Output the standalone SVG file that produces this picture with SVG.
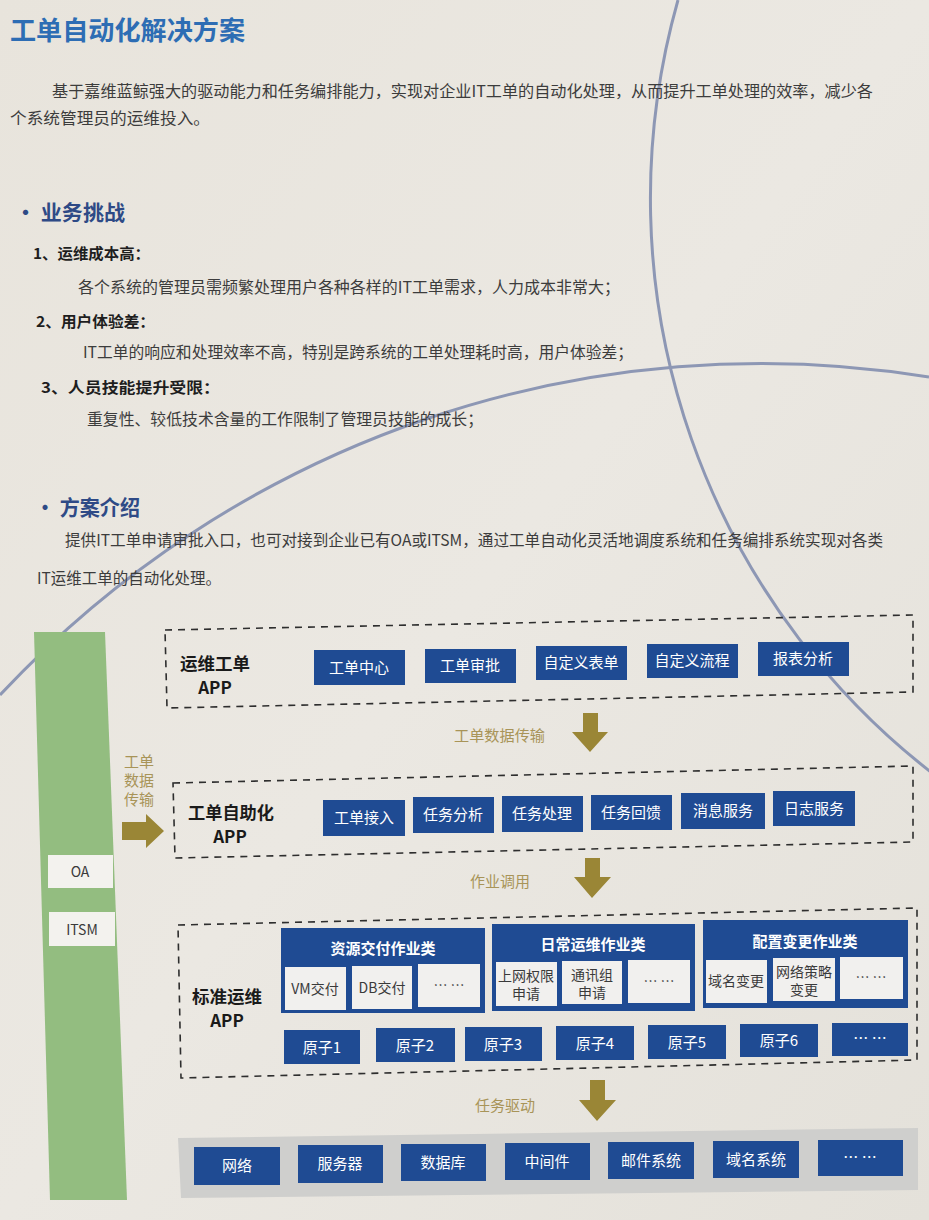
<svg xmlns="http://www.w3.org/2000/svg" width="929" height="1220" viewBox="0 0 929 1220">
<defs>
<linearGradient id="bg" x1="0" y1="0" x2="1" y2="1">
<stop offset="0" stop-color="#e8e4dc"/>
<stop offset="0.5" stop-color="#ebe8e2"/>
<stop offset="1" stop-color="#e4e1da"/>
</linearGradient>
<style>
.cn{font-family:"Noto Sans CJK SC","Liberation Sans",sans-serif;}
.title{font-size:26px;font-weight:bold;fill:#2d6db4;}
.body{font-size:16px;fill:#3c3c3c;}
.h2{font-size:21px;font-weight:bold;fill:#2e4a86;}
.h3{font-size:15px;font-weight:bold;fill:#1e1e1e;}
.lbl{font-size:17px;font-weight:bold;fill:#1a1a1a;}
.btxt{font-size:15px;fill:#ffffff;text-anchor:middle;}
.htxt{font-size:15px;font-weight:bold;fill:#ffffff;text-anchor:middle;}
.wtxt{font-size:14px;fill:#3a3a3a;text-anchor:middle;}
.gold{font-size:15px;fill:#a89458;}
.blue{fill:#1f4b93;}
.white{fill:#f1f0ee;}
.dash{fill:none;stroke:#2e2e2e;stroke-width:1.6;stroke-dasharray:7 6;}
.arc{fill:none;stroke:#8d97b4;stroke-width:3;}
.arrow{fill:#9a8636;}
</style>
</defs>
<rect width="929" height="1220" fill="url(#bg)"/>
<!-- decorative arcs -->
<path class="arc" d="M 678 0 A 727 727 0 0 0 955 790"/>
<path class="arc" d="M 0 695 A 1040 1040 0 0 1 929 377"/>

<!-- text content -->
<text class="cn title" x="10" y="40" textLength="235" lengthAdjust="spacingAndGlyphs">工单自动化解决方案</text>
<text class="cn body" x="52" y="97" textLength="821" lengthAdjust="spacingAndGlyphs">基于嘉维蓝鲸强大的驱动能力和任务编排能力，实现对企业IT工单的自动化处理，从而提升工单处理的效率，减少各</text>
<text class="cn body" x="10" y="124" textLength="200" lengthAdjust="spacingAndGlyphs">个系统管理员的运维投入。</text>

<text class="cn h2" x="15" y="220" textLength="110" lengthAdjust="spacingAndGlyphs">· 业务挑战</text>
<text class="cn h3" x="33" y="259" textLength="117" lengthAdjust="spacingAndGlyphs">1、运维成本高：</text>
<text class="cn body" x="78" y="293" textLength="542" lengthAdjust="spacingAndGlyphs">各个系统的管理员需频繁处理用户各种各样的IT工单需求，人力成本非常大；</text>
<text class="cn h3" x="36" y="327" textLength="119" lengthAdjust="spacingAndGlyphs">2、用户体验差：</text>
<text class="cn body" x="83" y="358" textLength="550" lengthAdjust="spacingAndGlyphs">IT工单的响应和处理效率不高，特别是跨系统的工单处理耗时高，用户体验差；</text>
<text class="cn h3" x="41" y="393" textLength="179" lengthAdjust="spacingAndGlyphs">3、人员技能提升受限：</text>
<text class="cn body" x="87" y="425" textLength="396" lengthAdjust="spacingAndGlyphs">重复性、较低技术含量的工作限制了管理员技能的成长；</text>

<text class="cn h2" x="35" y="515" textLength="105" lengthAdjust="spacingAndGlyphs">· 方案介绍</text>
<text class="cn body" x="65" y="546" textLength="818" lengthAdjust="spacingAndGlyphs">提供IT工单申请审批入口，也可对接到企业已有OA或ITSM，通过工单自动化灵活地调度系统和任务编排系统实现对各类</text>
<text class="cn body" x="37" y="584" textLength="184" lengthAdjust="spacingAndGlyphs">IT运维工单的自动化处理。</text>

<!-- left green bar -->
<g id="source-bar">
<polygon points="34,632 105,632 127,1200 50,1200" fill="#93bd80"/>
</g>
<g id="oa">
<rect x="48" y="855" width="65" height="33" fill="#f3f2ee"/>
<text class="cn wtxt" x="80" y="877">OA</text>
</g>
<g id="itsm">
<rect x="49" y="912" width="66" height="34" fill="#f3f2ee"/>
<text class="cn wtxt" x="82" y="935">ITSM</text>
</g>

<!-- connectors -->
<g id="connectors">
<text class="cn gold" x="124" y="767">工单</text>
<text class="cn gold" x="124" y="786">数据</text>
<text class="cn gold" x="124" y="805">传输</text>
<polygon class="arrow" points="122,822 146,822 146,814 164,831 146,848 146,840 122,840"/>

<text class="cn gold" x="454" y="741" textLength="91" lengthAdjust="spacingAndGlyphs">工单数据传输</text>
<polygon class="arrow" points="583,713 598,713 598,732 608,732 590,752 572,732 583,732"/>

<text class="cn gold" x="470" y="887" textLength="60" lengthAdjust="spacingAndGlyphs">作业调用</text>
<polygon class="arrow" points="585,858 600,858 600,877 611,877 592,898 574,877 585,877"/>

<text class="cn gold" x="475" y="1111" textLength="60" lengthAdjust="spacingAndGlyphs">任务驱动</text>
<polygon class="arrow" points="590,1080 605,1080 605,1100 616,1100 597,1121 579,1100 590,1100"/>
</g>

<!-- layer 1 -->
<g id="ops-ticket-app">
<polygon class="dash" points="165,630 913,615 913,692 167,708"/>
<text class="cn lbl" x="180" y="670" textLength="70" lengthAdjust="spacingAndGlyphs">运维工单</text>
<text class="cn lbl" x="215" y="694" text-anchor="middle">APP</text>
</g>
<g id="n-ticket-center"><rect class="blue" x="314" y="650" width="91" height="35"/><text class="cn btxt" x="359" y="673">工单中心</text></g>
<g id="n-ticket-approve"><rect class="blue" x="425" y="649" width="91" height="34"/><text class="cn btxt" x="470" y="671">工单审批</text></g>
<g id="n-custom-form"><rect class="blue" x="536" y="646" width="91" height="34"/><text class="cn btxt" x="581" y="668">自定义表单</text></g>
<g id="n-custom-flow"><rect class="blue" x="647" y="644" width="91" height="34"/><text class="cn btxt" x="692" y="666">自定义流程</text></g>
<g id="n-report"><rect class="blue" x="758" y="642" width="91" height="34"/><text class="cn btxt" x="803" y="664">报表分析</text></g>

<!-- layer 2 -->
<g id="ticket-auto-app">
<polygon class="dash" points="173,783 913,766 913,842 175,858"/>
<text class="cn lbl" x="188" y="819" textLength="86" lengthAdjust="spacingAndGlyphs">工单自助化</text>
<text class="cn lbl" x="230" y="843" text-anchor="middle">APP</text>
</g>
<g id="n-ingest"><rect class="blue" x="323" y="800" width="82" height="36"/><text class="cn btxt" x="364" y="823">工单接入</text></g>
<g id="n-analyze"><rect class="blue" x="413" y="797" width="81" height="36"/><text class="cn btxt" x="453" y="820">任务分析</text></g>
<g id="n-process"><rect class="blue" x="502" y="796" width="81" height="36"/><text class="cn btxt" x="542" y="819">任务处理</text></g>
<g id="n-feedback"><rect class="blue" x="591" y="795" width="81" height="35"/><text class="cn btxt" x="631" y="818">任务回馈</text></g>
<g id="n-message"><rect class="blue" x="681" y="793" width="84" height="36"/><text class="cn btxt" x="723" y="816">消息服务</text></g>
<g id="n-log"><rect class="blue" x="773" y="791" width="82" height="35"/><text class="cn btxt" x="814" y="814">日志服务</text></g>

<!-- layer 3 -->
<g id="std-ops-app">
<polygon class="dash" points="178,925 917,908 917,1060 181,1078"/>
<text class="cn lbl" x="192" y="1003" textLength="70" lengthAdjust="spacingAndGlyphs">标准运维</text>
<text class="cn lbl" x="227" y="1027" text-anchor="middle">APP</text>
</g>
<g id="cat-resource">
<rect class="blue" x="281" y="928" width="204" height="85"/>
<text class="cn htxt" x="383" y="954">资源交付作业类</text>
<rect class="white" x="285" y="967" width="61" height="43"/><text class="cn wtxt" x="315" y="994">VM交付</text>
<rect class="white" x="352" y="966" width="60" height="43"/><text class="cn wtxt" x="382" y="993">DB交付</text>
<rect class="white" x="418" y="964" width="62" height="43"/><text class="cn wtxt" x="449" y="990">… …</text>
</g>
<g id="cat-daily">
<rect class="blue" x="492" y="924" width="203" height="87"/>
<text class="cn htxt" x="593" y="950">日常运维作业类</text>
<rect class="white" x="496" y="962" width="61" height="44"/><text class="cn wtxt" x="526" y="981">上网权限</text><text class="cn wtxt" x="526" y="999">申请</text>
<rect class="white" x="562" y="961" width="60" height="43"/><text class="cn wtxt" x="592" y="980">通讯组</text><text class="cn wtxt" x="592" y="998">申请</text>
<rect class="white" x="628" y="960" width="62" height="43"/><text class="cn wtxt" x="659" y="986">… …</text>
</g>
<g id="cat-config">
<rect class="blue" x="703" y="920" width="205" height="88"/>
<text class="cn htxt" x="805" y="947">配置变更作业类</text>
<rect class="white" x="706" y="960" width="61" height="43"/><text class="cn wtxt" x="736" y="986">域名变更</text>
<rect class="white" x="773" y="958" width="62" height="43"/><text class="cn wtxt" x="804" y="977">网络策略</text><text class="cn wtxt" x="804" y="995">变更</text>
<rect class="white" x="840" y="957" width="63" height="42"/><text class="cn wtxt" x="871" y="982">… …</text>
</g>
<g id="n-atom1"><rect class="blue" x="284" y="1030" width="76" height="34"/><text class="cn btxt" x="322" y="1053">原子1</text></g>
<g id="n-atom2"><rect class="blue" x="376" y="1028" width="79" height="34"/><text class="cn btxt" x="415" y="1051">原子2</text></g>
<g id="n-atom3"><rect class="blue" x="465" y="1027" width="77" height="34"/><text class="cn btxt" x="503" y="1050">原子3</text></g>
<g id="n-atom4"><rect class="blue" x="556" y="1026" width="78" height="34"/><text class="cn btxt" x="595" y="1049">原子4</text></g>
<g id="n-atom5"><rect class="blue" x="648" y="1025" width="78" height="34"/><text class="cn btxt" x="687" y="1048">原子5</text></g>
<g id="n-atom6"><rect class="blue" x="740" y="1024" width="78" height="33"/><text class="cn btxt" x="779" y="1046">原子6</text></g>
<g id="n-atom-more"><rect class="blue" x="832" y="1023" width="76" height="33"/><text class="cn btxt" x="870" y="1044">… …</text></g>

<!-- layer 4 -->
<g id="infra">
<polygon points="178,1138 918,1128 918,1190 181,1198" fill="#cfcfcd"/>
</g>
<g id="n-network"><rect class="blue" x="194" y="1147" width="86" height="38"/><text class="cn btxt" x="237" y="1171">网络</text></g>
<g id="n-server"><rect class="blue" x="298" y="1145" width="85" height="38"/><text class="cn btxt" x="340" y="1169">服务器</text></g>
<g id="n-db"><rect class="blue" x="401" y="1144" width="85" height="37"/><text class="cn btxt" x="443" y="1168">数据库</text></g>
<g id="n-middleware"><rect class="blue" x="505" y="1143" width="85" height="37"/><text class="cn btxt" x="547" y="1167">中间件</text></g>
<g id="n-mail"><rect class="blue" x="608" y="1142" width="86" height="37"/><text class="cn btxt" x="651" y="1166">邮件系统</text></g>
<g id="n-dns"><rect class="blue" x="713" y="1141" width="86" height="37"/><text class="cn btxt" x="756" y="1165">域名系统</text></g>
<g id="n-infra-more"><rect class="blue" x="818" y="1140" width="85" height="36"/><text class="cn btxt" x="860" y="1163">… …</text></g>
</svg>
